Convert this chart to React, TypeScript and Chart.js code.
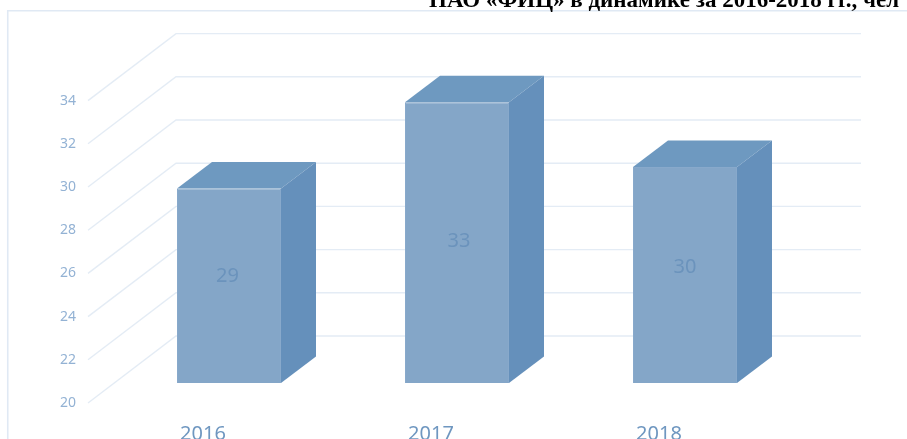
import React, { useEffect, useRef } from "react";
import { Chart, registerables } from "chart.js";

Chart.register(...registerables);

const years = ["2016", "2017", "2018"];
const staff = [29, 33, 30];
const yMin = 20;
const yMax = 34;
const yStep = 2;
const titleText = "ПАО «ФИЦ» в динамике за 2016-2018 гг., чел";

const W = 907;
const H = 439;
const FONT = "'Noto Sans', sans-serif";
const GRID = "#e4ecf5";
const labelNudge = [-1.5, 2, 0];

const depth3d = {
  id: "depth3d",
  beforeDraw(chart: any) {
    const { ctx, chartArea } = chart;
    const y = chart.scales.y;
    ctx.save();
    ctx.fillStyle = "#ffffff";
    ctx.fillRect(0, 0, W, H);

    // outer frame
    ctx.strokeStyle = "#e0e9f4";
    ctx.lineWidth = 1.6;
    ctx.beginPath();
    ctx.moveTo(7.75, H);
    ctx.lineTo(7.75, 10.75);
    ctx.lineTo(W, 10.75);
    ctx.stroke();

    // walls: front edge 27px left / 20px below the bar plane, back 61px right / 47px above
    ctx.strokeStyle = GRID;
    ctx.lineWidth = 1.4;
    const backX = chartArea.left + 61;
    const backR = chartArea.right + 62;
    for (let v = yMin; v <= yMax; v += yStep) {
      const p = y.getPixelForValue(v);
      ctx.beginPath();
      ctx.moveTo(chartArea.left - 27, p + 20);
      ctx.lineTo(backX, p - 47);
      ctx.lineTo(backR, p - 47);
      ctx.stroke();

      ctx.fillStyle = "#93b2d4";
      ctx.font = `14px ${FONT}`;
      ctx.textAlign = "right";
      ctx.textBaseline = "middle";
      ctx.fillText(String(v), 76, p + 20);
    }

    // category labels
    const x = chart.scales.x;
    ctx.fillStyle = "#6f97c0";
    ctx.font = `20px ${FONT}`;
    ctx.textAlign = "center";
    ctx.textBaseline = "alphabetic";
    years.forEach((label, i) => {
      ctx.fillText(label, x.getPixelForValue(i) - 26, 440);
    });

    // clipped heading
    ctx.fillStyle = "#000000";
    ctx.font = "bold 23px 'Liberation Serif', serif";
    ctx.textAlign = "left";
    ctx.fillText(titleText, 429, 7);
    ctx.restore();
  },
  beforeDatasetsDraw(chart: any) {
    const { ctx } = chart;
    const base = chart.scales.y.getPixelForValue(yMin);
    const dx = 35;
    const dy = 26.5;
    ctx.save();
    chart.getDatasetMeta(0).data.forEach((bar: any) => {
      const l = bar.x - bar.width / 2;
      const r = bar.x + bar.width / 2;
      const t = bar.y;
      ctx.fillStyle = "#6e99c0";
      ctx.beginPath();
      ctx.moveTo(l, t);
      ctx.lineTo(l + dx, t - dy);
      ctx.lineTo(r + dx, t - dy);
      ctx.lineTo(r, t);
      ctx.closePath();
      ctx.fill();
      ctx.fillStyle = "#6590bb";
      ctx.beginPath();
      ctx.moveTo(r, t);
      ctx.lineTo(r + dx, t - dy);
      ctx.lineTo(r + dx, base - dy);
      ctx.lineTo(r, base);
      ctx.closePath();
      ctx.fill();
    });
    ctx.restore();
  },
  afterDatasetsDraw(chart: any) {
    const { ctx } = chart;
    const base = chart.scales.y.getPixelForValue(yMin);
    ctx.save();
    ctx.fillStyle = "#6b93bc";
    ctx.font = `20px ${FONT}`;
    ctx.textAlign = "center";
    ctx.textBaseline = "middle";
    chart.getDatasetMeta(0).data.forEach((bar: any, i: number) => {
      const ly = base - 28.5 - 0.404 * (base - bar.y);
      ctx.fillText(String(staff[i]), bar.x + labelNudge[i], ly);
    });
    ctx.restore();
  },
};

export default function App() {
  const ref = useRef<HTMLCanvasElement>(null);
  useEffect(() => {
    const chart = new Chart(ref.current!, {
      type: "bar",
      data: {
        labels: years,
        datasets: [
          {
            data: staff,
            backgroundColor: "#84a6c8",
            borderColor: "#88a9cb",
            borderWidth: 1,
            barPercentage: 104 / 228,
            categoryPercentage: 1,
          },
        ],
      },
      options: {
        animation: false,
        responsive: false,
        devicePixelRatio: 1,
        layout: { padding: { left: 115, right: 108, top: 80.6, bottom: 56 } },
        plugins: { legend: { display: false }, tooltip: { enabled: false }, title: { display: false } },
        scales: {
          x: { display: false },
          y: { display: false, min: yMin, max: yMax, ticks: { stepSize: yStep } },
        },
      },
      plugins: [depth3d],
    });
    return () => chart.destroy();
  }, []);
  return (
    <div style={{ position: "fixed", left: 0, top: 0, width: W, height: H, overflow: "hidden", background: "#fff" }}>
      <canvas ref={ref} width={W} height={H} style={{ display: "block", filter: "blur(0.4px)" }} />
    </div>
  );
}
